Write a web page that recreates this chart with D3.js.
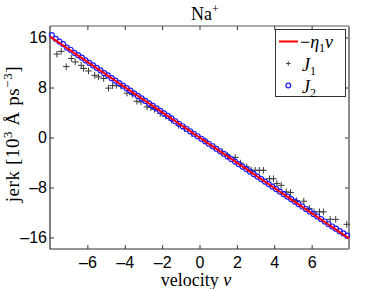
<!DOCTYPE html>
<html>
<head>
<meta charset="utf-8">
<script src="https://cdnjs.cloudflare.com/ajax/libs/d3/7.8.5/d3.min.js"></script>
<style>
  body { margin: 0; background: #fff; }
  .tick text { font-family: "Liberation Sans", Arial, sans-serif; font-size: 16px; fill: #000; }
  .tick line { stroke: #333; }
  .serif { font-family: "Liberation Serif", "DejaVu Serif", serif; fill: #000; }
</style>
</head>
<body>
<div id="chart"></div>
<script>
// fitted line -eta1 * v
var lineVelocity = [-8, 8];
var lineJerk = [16.15, -16.15];

// J1 samples (plus markers)
var velocityJ1 = [-7.63, -7.4, -7.13, -6.86, -6.65, -6.33, -6.2, -5.94, -5.61, -5.4, -5.13, -4.87, -4.65, -4.45, -4.2,
    -3.88, -3.6, -3.35, -3.13, -2.81, -2.6, -2.4, -2.1, -1.8, -1.5, -1.12, -0.8, -0.4, 0.3, 0.8, 1.2, 1.5,
    1.91, 2.2, 2.53, 2.76, 2.98, 3.2, 3.42, 3.75, 3.96, 4.14, 4.37, 4.64, 4.87, 5.2, 5.58, 5.88, 6.13, 6.42,
    6.63, 6.99, 7.29, 7.88];
var jerkJ1 = [13.35, 13.8, 11.35, 12.65, 12.1, 11.55, 11.05, 10.65, 9.95, 9.7, 9.45, 7.9, 8.3, 8.35, 8.2,
    7.1, 6.9, 5.8, 5.7, 4.9, 4.8, 4.5, 3.85, 3.4, 2.8, 1.95, 1.4, 0.6, -0.55, -1.5, -2.3, -2.9,
    -3.2, -4.1, -4.7, -5.25, -5.25, -5.25, -5.25, -6.6, -6.6, -7.35, -7.65, -8.7, -8.8, -10.1, -10.2, -11.35, -11.9, -11.9,
    -11.9, -13.1, -13.1, -13.9];

// J2 samples (circle markers)
var velocityJ2 = [-7.9, -7.7, -7.5, -7.3, -7.1, -6.9, -6.7, -6.5, -6.3, -6.1, -5.9, -5.7, -5.5, -5.3, -5.1, -4.9,
    -4.7, -4.5, -4.3, -4.1, -3.9, -3.7, -3.5, -3.3, -3.1, -2.9, -2.7, -2.5, -2.3, -2.1, -1.9, -1.7, -1.5, -1.3,
    -1.1, -0.9, -0.7, -0.5, -0.3, -0.1, 0.1, 0.3, 0.5, 0.7, 0.9, 1.1, 1.3, 1.5, 1.7, 1.9, 2.1, 2.3, 2.5, 2.7,
    2.9, 3.1, 3.3, 3.5, 3.7, 3.9, 4.1, 4.3, 4.5, 4.7, 4.9, 5.1, 5.3, 5.5, 5.7, 5.9, 6.1, 6.3, 6.5, 6.7, 6.9,
    7.1, 7.3, 7.5, 7.7, 7.9];
var jerkJ2 = [16.4, 15.8, 15.35, 14.95, 14.4, 14.05, 13.55, 13.2, 12.8, 12.35, 11.95, 11.55, 11.15, 10.75, 10.3, 9.95,
    9.5, 9.1, 8.7, 8.3, 7.9, 7.5, 7.05, 6.65, 6.25, 5.85, 5.45, 5.05, 4.65, 4.25, 3.85, 3.45, 3.05, 2.6,
    2.2, 1.8, 1.4, 1.0, 0.6, 0.2, -0.2, -0.6, -1.0, -1.4, -1.8, -2.2, -2.6, -3.05, -3.45, -3.85, -4.25, -4.65, -5.05, -5.45,
    -5.85, -6.25, -6.65, -7.05, -7.45, -7.85, -8.25, -8.65, -9.05, -9.45, -9.85, -10.25, -10.65, -11.05, -11.45, -11.85, -12.25, -12.65, -13.05, -13.45, -13.85,
    -14.25, -14.6, -15.0, -15.35, -15.7];

var xTicks = [-6, -4, -2, 0, 2, 4, 6];
var yTicks = [-16, -8, 0, 8, 16];

var margin = { top: 26, right: 36, bottom: 40, left: 50 },
    width = 385 - margin.left - margin.right,
    height = 289 - margin.top - margin.bottom;

var svg = d3.select("#chart")
    .append("svg")
    .attr("width", 385)
    .attr("height", 289);

var plot = svg.append("g")
    .attr("transform", "translate(" + margin.left + "," + margin.top + ")");

var xScale = d3.scaleLinear().domain([-8, 8]).range([0, width]);
var yScale = d3.scaleLinear().domain([-17.85, 17.85]).range([height, 0]);

function fmt(d) {
    return d < 0 ? "\u2013" + Math.abs(d) : d;
}

// axes, ticks pointing inward
plot.append("g")
    .attr("transform", "translate(0," + height + ")")
    .call(d3.axisBottom(xScale).tickValues(xTicks).tickSizeInner(-4).tickSizeOuter(0).tickPadding(8).tickFormat(fmt))
    .call(function(g) { g.select(".domain").remove(); });

plot.append("g")
    .call(d3.axisTop(xScale).tickValues(xTicks).tickSizeInner(-4).tickSizeOuter(0).tickFormat(""))
    .call(function(g) { g.select(".domain").remove(); });

plot.append("g")
    .call(d3.axisLeft(yScale).tickValues(yTicks).tickSizeInner(-4).tickSizeOuter(0).tickPadding(3).tickFormat(fmt))
    .call(function(g) { g.select(".domain").remove(); });

plot.append("g")
    .attr("transform", "translate(" + width + ",0)")
    .call(d3.axisRight(yScale).tickValues(yTicks).tickSizeInner(-4).tickSizeOuter(0).tickFormat(""))
    .call(function(g) { g.select(".domain").remove(); });

plot.selectAll(".tick text").attr("font-family", null).attr("font-size", null);

// frame
plot.append("path")
    .attr("d", "M0,0V" + height + "H" + width)
    .attr("fill", "none")
    .attr("stroke", "#2a2a2a")
    .attr("stroke-width", 1.2);
plot.append("path")
    .attr("d", "M0,0H" + width)
    .attr("fill", "none")
    .attr("stroke", "#555")
    .attr("stroke-width", 1);
plot.append("path")
    .attr("d", "M" + width + ",0V" + height)
    .attr("fill", "none")
    .attr("stroke", "#8a8a8a")
    .attr("stroke-width", 2);

// J1 plus markers
var j1 = velocityJ1.map(function(v, i) { return { v: v, j: jerkJ1[i] }; });
plot.selectAll(".plus")
    .data(j1)
    .enter().append("path")
    .attr("class", "plus")
    .attr("d", function(d) {
        var x = xScale(d.v), y = yScale(d.j);
        return "M" + (x - 3.3) + "," + y + "H" + (x + 3.3) + "M" + x + "," + (y - 3.3) + "V" + (y + 3.3);
    })
    .attr("stroke", "#3a3a3a")
    .attr("stroke-width", 1);

// fitted line
var line = d3.line()
    .x(function(d) { return xScale(d.v); })
    .y(function(d) { return yScale(d.j); });
var fit = lineVelocity.map(function(v, i) { return { v: v, j: lineJerk[i] }; });

// J2 circles
var j2 = velocityJ2.map(function(v, i) { return { v: v, j: jerkJ2[i] }; });
plot.selectAll(".dot")
    .data(j2)
    .enter().append("circle")
    .attr("class", "dot")
    .attr("cx", function(d) { return xScale(d.v); })
    .attr("cy", function(d) { return yScale(d.j); })
    .attr("r", 2.5)
    .attr("fill", "none")
    .attr("stroke", "#1a1aff")
    .attr("stroke-width", 1.2);

plot.append("path")
    .datum(fit)
    .attr("d", line)
    .attr("fill", "none")
    .attr("stroke", "#ff0000")
    .attr("stroke-width", 2);

// title
var title = svg.append("text")
    .attr("class", "serif")
    .attr("x", 191)
    .attr("y", 20)
    .attr("font-size", 18);
title.append("tspan").text("Na");
title.append("tspan").attr("dy", -7).attr("font-size", 12).text("+");

// x label
var xl = svg.append("text")
    .attr("class", "serif")
    .attr("x", 196)
    .attr("y", 286)
    .attr("text-anchor", "middle")
    .attr("font-size", 18);
xl.append("tspan").text("velocity ");
xl.append("tspan").attr("font-style", "italic").text("v");

// y label
var yl = svg.append("text")
    .attr("class", "serif")
    .attr("transform", "translate(19,134) rotate(-90)")
    .attr("text-anchor", "middle")
    .attr("font-size", 19)
    .attr("letter-spacing", 0.6);
yl.append("tspan").text("jerk [10");
yl.append("tspan").attr("dy", -7).attr("font-size", 13).text("3");
yl.append("tspan").attr("dy", 7).text(" \u00c5 ps");
yl.append("tspan").attr("dy", -7).attr("font-size", 13).text("\u22123");
yl.append("tspan").attr("dy", 7).text("]");

// legend
var legend = svg.append("g");
legend.append("rect")
    .attr("x", 275.5)
    .attr("y", 29.5)
    .attr("width", 70)
    .attr("height", 67)
    .attr("fill", "#fff")
    .attr("stroke", "#333")
    .attr("stroke-width", 1);

legend.append("line")
    .attr("x1", 279).attr("x2", 298)
    .attr("y1", 41.5).attr("y2", 41.5)
    .attr("stroke", "#ff0000")
    .attr("stroke-width", 2);
legend.append("path")
    .attr("d", "M286,63.5H290.6M288.3,61.2V65.8")
    .attr("stroke", "#444")
    .attr("stroke-width", 1);
legend.append("circle")
    .attr("cx", 288.3).attr("cy", 85.5).attr("r", 2.4)
    .attr("fill", "none")
    .attr("stroke", "#1a1aff")
    .attr("stroke-width", 1.2);

var t1 = legend.append("text").attr("class", "serif").attr("x", 300).attr("y", 48).attr("font-size", 18);
t1.append("tspan").text("\u2212");
t1.append("tspan").attr("font-style", "italic").text("\u03b7");
t1.append("tspan").attr("dy", 4).attr("font-size", 12).text("1");
t1.append("tspan").attr("dy", -4).attr("font-style", "italic").text("v");

var t2 = legend.append("text").attr("class", "serif").attr("x", 302).attr("y", 71).attr("font-size", 18);
t2.append("tspan").attr("font-style", "italic").text("J");
t2.append("tspan").attr("dy", 4).attr("font-size", 12).text("1");

var t3 = legend.append("text").attr("class", "serif").attr("x", 302).attr("y", 93).attr("font-size", 18);
t3.append("tspan").attr("font-style", "italic").text("J");
t3.append("tspan").attr("dy", 4).attr("font-size", 12).text("2");
</script>
</body>
</html>
